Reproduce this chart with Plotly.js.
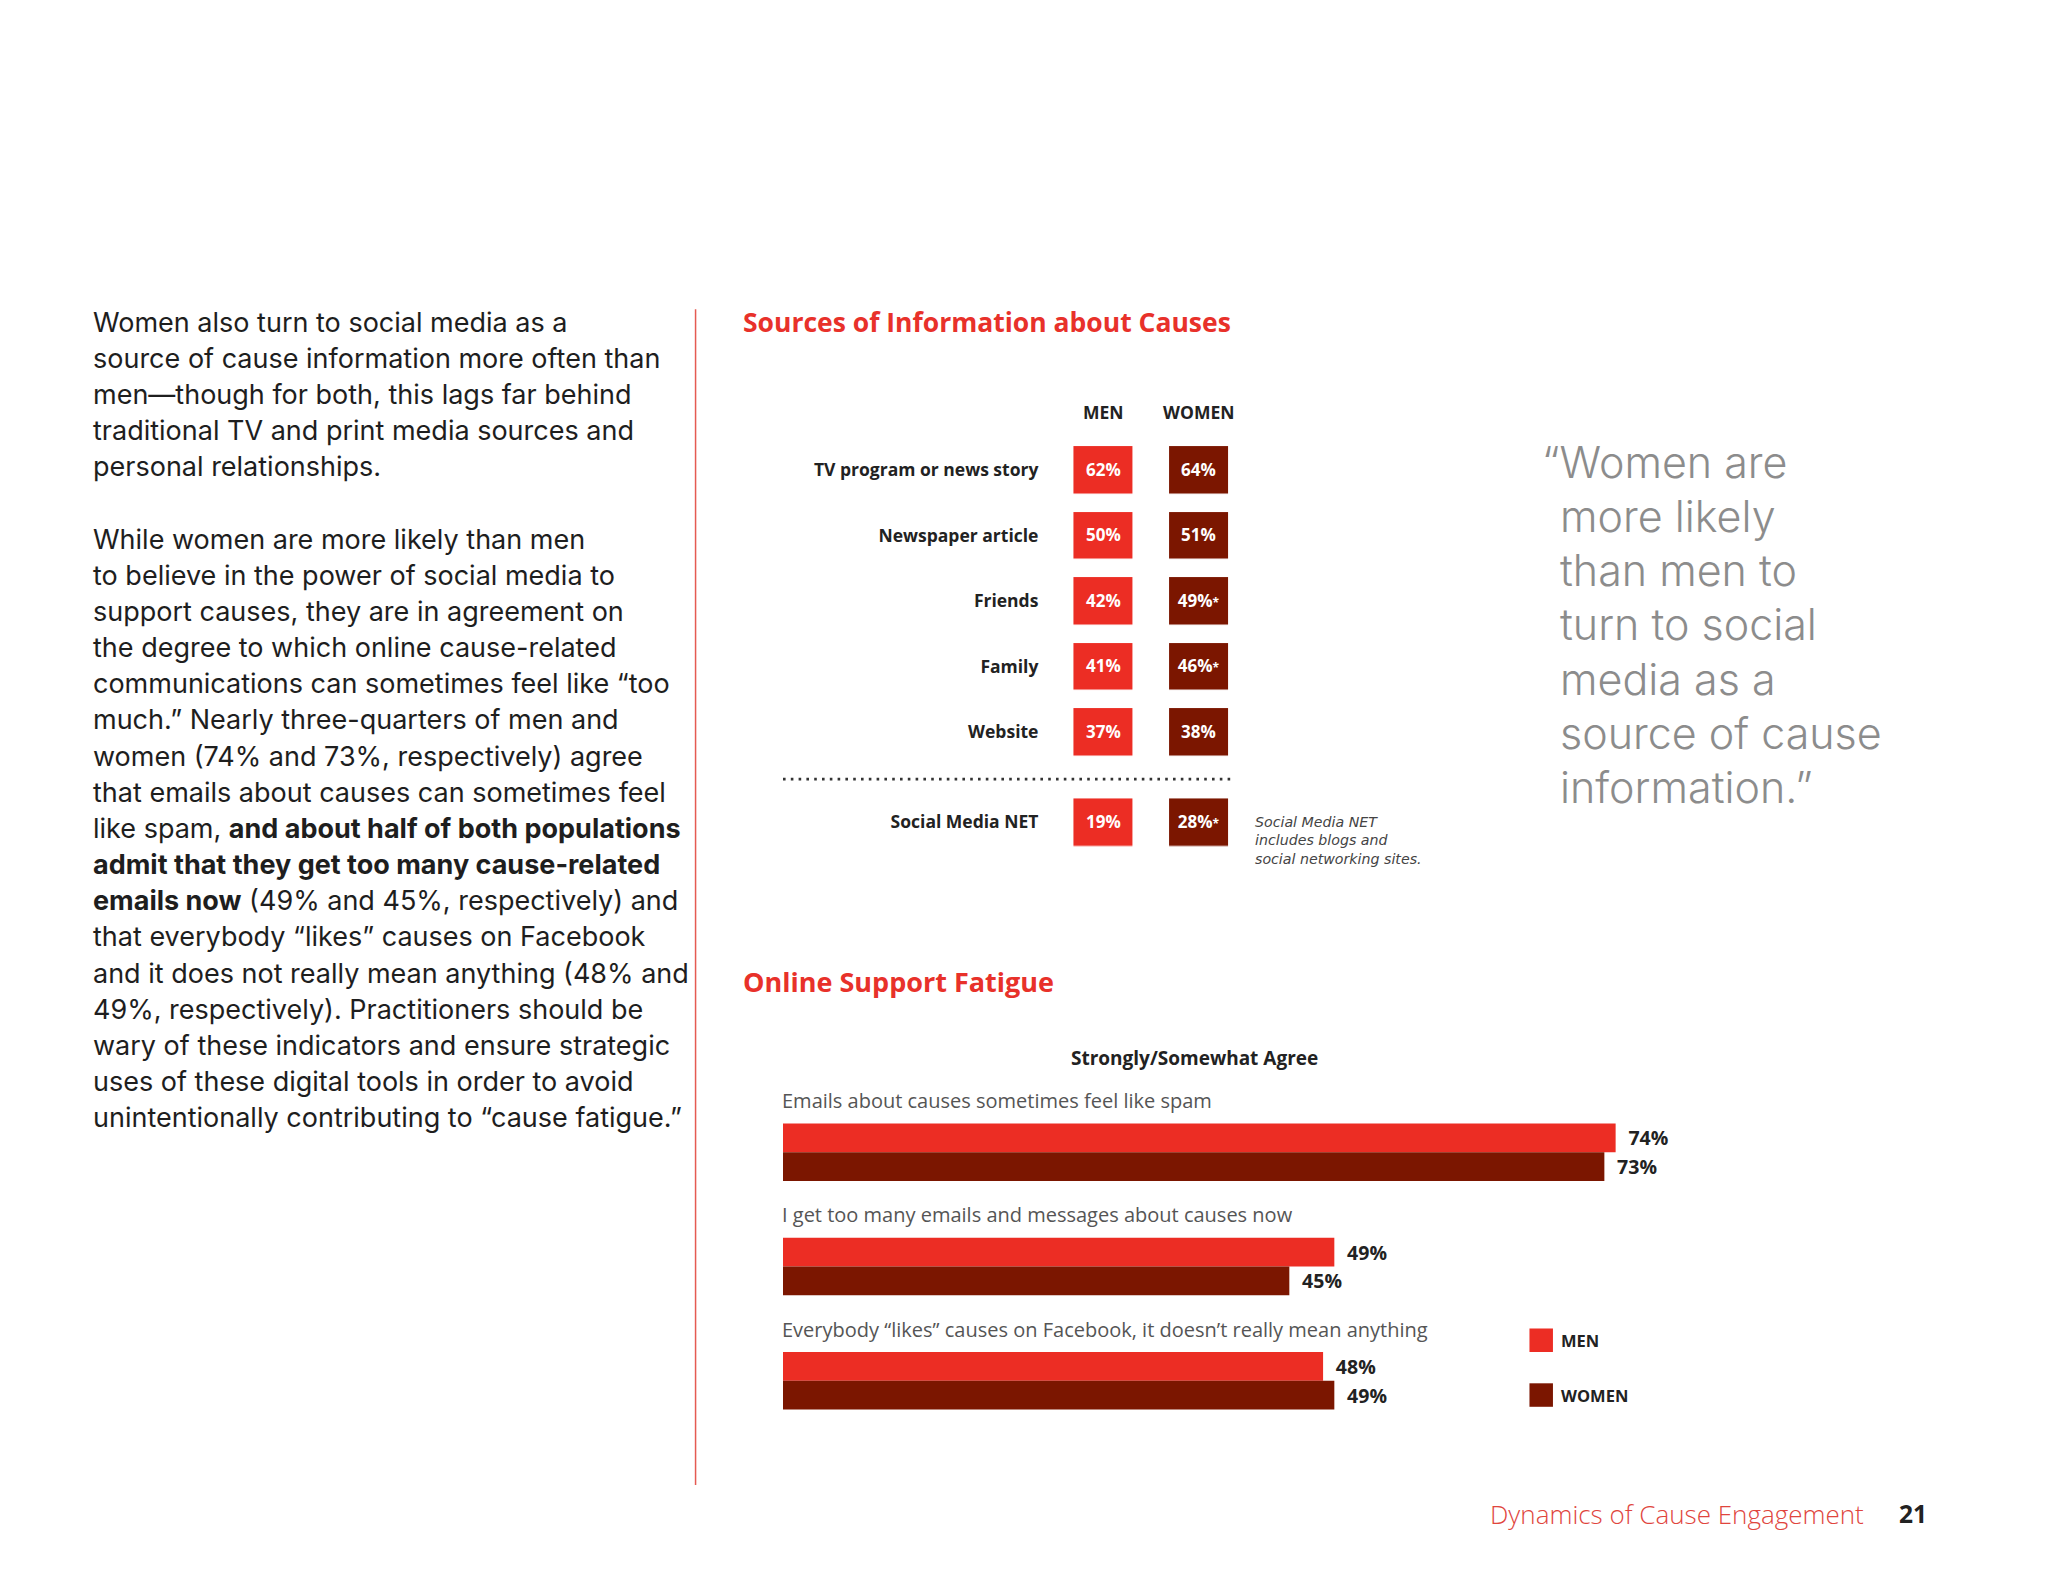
<!DOCTYPE html>
<html>
<head>
<meta charset="utf-8">
<script src="https://cdn.plot.ly/plotly-3.0.1.min.js"></script>
<style>html,body{margin:0;padding:0;background:#fff;}#chart{width:2048px;height:1582px;}</style>
</head>
<body>
<div id="chart"></div>
<script>
// ---------- DATA ----------
const sexes = ['MEN', 'WOMEN'];
const sourceCategories = ['TV program or news story', 'Newspaper article', 'Friends', 'Family', 'Website'];
const sourceMen = [62, 50, 42, 41, 37];
const sourceWomen = [64, 51, 49, 46, 38];
const sourceMenSig = [false, false, false, false, false];
const sourceWomenSig = [false, false, true, true, false];
const socialCategory = ['Social Media NET'];
const socialMen = [19];
const socialWomen = [28];
const socialMenSig = [false];
const socialWomenSig = [true];
const socialNote = ['Social Media NET', 'includes blogs and', 'social networking sites.'];

const fatigueCategories = [
  'Emails about causes sometimes feel like spam',
  'I get too many emails and messages about causes now',
  'Everybody \u201clikes\u201d causes on Facebook, it doesn\u2019t really mean anything'
];
const fatigueMen = [74, 49, 48];
const fatigueWomen = [73, 45, 49];

const bodyLines = [
  'Women also turn to social media as a',
  'source of cause information more often than',
  'men\u2014though for both, this lags far behind',
  'traditional TV and print media sources and',
  'personal relationships.',
  '',
  'While women are more likely than men',
  'to believe in the power of social media to',
  'support causes, they are in agreement on',
  'the degree to which online cause-related',
  'communications can sometimes feel like \u201ctoo',
  'much.\u201d Nearly three-quarters of men and',
  'women (74% and 73%, respectively) agree',
  'that emails about causes can sometimes feel',
  'like spam, <b>and about half of both populations</b>',
  '<b>admit that they get too many cause-related</b>',
  '<b>emails now</b> (49% and 45%, respectively) and',
  'that everybody \u201clikes\u201d causes on Facebook',
  'and it does not really mean anything (48% and',
  '49%, respectively). Practitioners should be',
  'wary of these indicators and ensure strategic',
  'uses of these digital tools in order to avoid',
  'unintentionally contributing to \u201ccause fatigue.\u201d'
];
const quoteLines = ['\u201cWomen are', 'more likely', 'than men to', 'turn to social', 'media as a', 'source of cause', 'information.\u201d'];

// ---------- LAYOUT HELPERS ----------
const W = 2048, H = 1582, K = 1.305;       // K: page units -> pixels
const px = v => v * K / W;
const py = v => 1 - v * K / H;
const RED = '#EC2D24', DARK = '#7B1600';
const FONT = 'Open Sans, Noto Sans, sans-serif';
const BODY = 'Inter, Open Sans, sans-serif';
const pct = (v, s) => v + '%' + (s ? '<span style="font-size:12px">*</span>' : '');
const col = a => a.map(v => [v]);

const cellFont = {family: FONT, size: 17, color: '#ffffff', weight: 700};
function cellTrace(sex, cats, vals, sig, color, yax) {
  return {
    type: 'heatmap', x0: sexes.indexOf(sex), dx: 1, y: cats, z: col(vals),
    text: col(vals.map((v, i) => pct(v, sig[i]))),
    texttemplate: '%{text}', textfont: cellFont,
    colorscale: [[0, color], [1, color]], showscale: false,
    xgap: 37, ygap: 18.5, xaxis: 'x', yaxis: yax, hoverinfo: 'skip'
  };
}
const barText = {family: FONT, size: 19.5, color: '#222', weight: 700};
function fatigueTrace(name, vals, color) {
  return {
    type: 'bar', orientation: 'h', name: name, y: fatigueCategories, x: vals,
    marker: {color: color, line: {width: 0}}, text: vals.map(v => '\u2002' + v + '%'), textposition: 'outside',
    textfont: barText, cliponaxis: false, xaxis: 'x3', yaxis: 'y3', hoverinfo: 'skip'
  };
}

const traces = [
  cellTrace('MEN', sourceCategories, sourceMen, sourceMenSig, RED, 'y'),
  cellTrace('WOMEN', sourceCategories, sourceWomen, sourceWomenSig, DARK, 'y'),
  cellTrace('MEN', socialCategory, socialMen, socialMenSig, RED, 'y2'),
  cellTrace('WOMEN', socialCategory, socialWomen, socialWomenSig, DARK, 'y2'),
  fatigueTrace('MEN', fatigueMen, RED),
  fatigueTrace('WOMEN', fatigueWomen, DARK)
];

const ann = (x, y, text, font, xanchor) => ({xref: 'paper', yref: 'paper', x: px(x), y: py(y), xanchor: xanchor || 'left',
  yanchor: 'middle', text: text, showarrow: false, font: font});

const annotations = [];
bodyLines.forEach((t, i) => {
  if (t) annotations.push(ann(69.5, 247 + i * 27.7, t, {family: BODY, size: 27, color: '#1e1e1e'}));
});
quoteLines.forEach((t, i) => {
  annotations.push(ann(i === 0 ? 1180 : 1194, 354 + i * 41.5, t, {family: BODY, size: 43, color: '#8c8c8c', weight: 300}));
});
annotations.push(Object.assign(ann(960, 644, socialNote.map(t => '<i>' + t + '</i>').join('<br>'),
  {family: 'DejaVu Sans, sans-serif', size: 14.2, color: '#444'}), {align: 'left'}));
annotations.push(
  ann(568, 247, '<b>Sources of Information about Causes</b>', {family: FONT, size: 26.5, color: '#E8312A'}),
  ann(568, 752, '<b>Online Support Fatigue</b>', {family: FONT, size: 27, color: '#E8312A'}),
  ann(915, 811, '<b>Strongly/Somewhat Agree</b>', {family: FONT, size: 19, color: '#222'}, 'center'),
  ann(1430, 1160, 'Dynamics of Cause Engagement', {family: FONT, size: 26, color: '#E0453D', weight: 300}, 'right'),
  ann(1454, 1160, '<b>21</b>', {family: FONT, size: 24.5, color: '#222'})
);
fatigueCategories.forEach(c => {
  annotations.push({xref: 'x3', yref: 'y3', x: 0, y: c, yshift: 39.5 * K, xanchor: 'left', xshift: -3, yanchor: 'middle', showarrow: false,
    text: c, font: {family: FONT, size: 20, color: '#555'}});
});

const legendColors = [RED, DARK];
const shapes = [
  {type: 'line', xref: 'paper', yref: 'paper', x0: px(533), x1: px(533), y0: py(237), y1: py(1138), line: {color: '#E55A52', width: 1.5}},
  {type: 'line', xref: 'paper', yref: 'paper', x0: px(600), x1: px(943), y0: py(597), y1: py(597), line: {color: '#333', width: 2.6, dash: '2.6px,5.2px'}}
];
sexes.forEach((s, i) => {
  const cy = 1027 + i * 42;
  shapes.push({type: 'rect', xref: 'paper', yref: 'paper', x0: px(1172), x1: px(1190), y0: py(cy - 9), y1: py(cy + 9),
    fillcolor: legendColors[i], line: {width: 0}});
  annotations.push(ann(1195, cy, '<b>' + s + '</b>', {family: FONT, size: 16.5, color: '#222'}));
});

const labFont = {family: FONT, size: 17.5, color: '#222', weight: 700};
const layout = {
  width: W, height: H, margin: {l: 0, r: 0, t: 0, b: 0},
  paper_bgcolor: '#ffffff', plot_bgcolor: 'rgba(0,0,0,0)',
  showlegend: false, barmode: 'group', bargap: 0.497, bargroupgap: 0,
  font: {family: FONT},
  xaxis: {domain: [px(808.75), px(955.25)], anchor: 'y', side: 'top', range: [-0.5, 1.5],
    tickmode: 'array', tickvals: sexes.map((s, i) => i), ticktext: sexes,
    showgrid: false, zeroline: false, showline: false, ticks: '', ticklabelstandoff: 14,
    tickfont: {family: FONT, size: 17.5, color: '#222', weight: 700}, fixedrange: true},
  yaxis: {domain: [py(586.1), py(334.9)], anchor: 'x', type: 'category', autorange: 'reversed',
    showgrid: false, zeroline: false, showline: false, ticks: '', ticklabelstandoff: 16,
    tickfont: labFont, fixedrange: true},
  yaxis2: {domain: [py(655.1), py(604.9)], anchor: 'x', type: 'category',
    showgrid: false, zeroline: false, showline: false, ticks: '', ticklabelstandoff: 16,
    tickfont: labFont, fixedrange: true},
  xaxis3: {domain: [px(600), px(1462.2)], anchor: 'y3', range: [0, 100], visible: false, fixedrange: true},
  yaxis3: {domain: [py(1101.75), py(839.25)], anchor: 'x3', type: 'category',
    range: [fatigueCategories.length - 0.5, -0.5], visible: false, fixedrange: true},
  annotations: annotations,
  shapes: shapes
};

Plotly.newPlot('chart', traces, layout, {staticPlot: true, displayModeBar: false});
</script>
</body>
</html>
